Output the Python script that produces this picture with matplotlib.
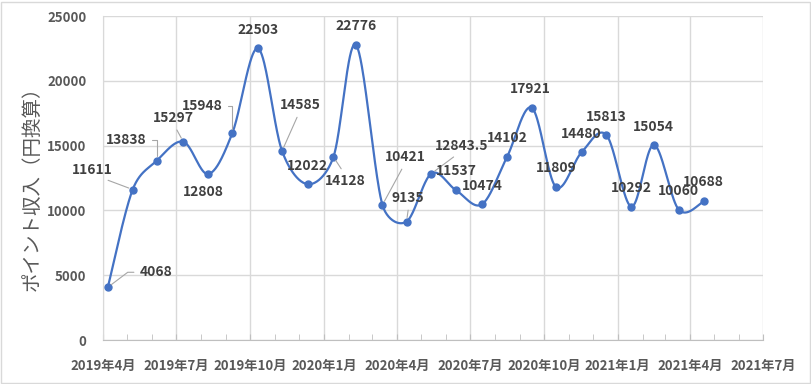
import numpy as np
import pandas as pd
import matplotlib
matplotlib.use('Agg')
import matplotlib.pyplot as plt
import matplotlib.dates as mdates
from matplotlib.patches import Rectangle

plt.rcParams['font.family'] = ['Noto Sans CJK JP', 'DejaVu Sans']

# data
dates = ['2019-04-07', '2019-05-08', '2019-06-07', '2019-07-10', '2019-08-10',
         '2019-09-09', '2019-10-11', '2019-11-10', '2019-12-12', '2020-01-13',
         '2020-02-10', '2020-03-14', '2020-04-13', '2020-05-14', '2020-06-14',
         '2020-07-16', '2020-08-16', '2020-09-16', '2020-10-16', '2020-11-17',
         '2020-12-18', '2021-01-18', '2021-02-15', '2021-03-18', '2021-04-18']
values = [4068, 11611, 13838, 15297, 12808, 15948, 22503, 14585, 12022, 14128,
          22776, 10421, 9135, 12843.5, 11537, 10474, 14102, 17921, 11809, 14480,
          15813, 10292, 15054, 10060, 10688]
tick_dates = ['2019-04-01', '2019-07-01', '2019-10-01', '2020-01-01', '2020-04-01',
              '2020-07-01', '2020-10-01', '2021-01-01', '2021-04-01', '2021-07-01']
tick_labels = ['2019年4月', '2019年7月', '2019年10月', '2020年1月', '2020年4月',
               '2020年7月', '2020年10月', '2021年1月', '2021年4月', '2021年7月']
y_ticks = [0, 5000, 10000, 15000, 20000, 25000]
y_label = 'ポイント収入（円換算）'

# label offsets in pixels (dx, dy up)
label_offsets = [(48, 15), (-40, 20), (-31, 21), (-10, 24), (-5, -18), (-30, 27),
                 (0, 18), (18, 46), (0, 18), (12, -24), (0, 19), (23, 48),
                 (1, 24), (30, 28), (0, 19), (0, 18), (0, 19), (-1, 19),
                 (0, 19), (0, 18), (0, 18), (0, 19), (0, 18), (0, 19), (0, 19)]
# leader lines: index -> (relpos, connectionstyle)
leaders = {
    0: ((0, 0.5), 'angle,angleA=180,angleB=37,rad=0'),
    1: ((0.54, 0.1), 'arc3,rad=0'),
    2: ((1, 0.5), 'angle,angleA=0,angleB=90,rad=0'),
    3: ((0.5, 0.1), 'arc3,rad=0'),
    5: ((1, 0.5), 'angle,angleA=0,angleB=90,rad=0'),
    7: ((0.5, 0.1), 'arc3,rad=0'),
    9: ((0.5, 0.9), 'arc3,rad=0'),
    11: ((0.5, 0.1), 'arc3,rad=0'),
    12: ((0.55, 0.1), 'arc3,rad=0'),
    13: ((0.5, 0.1), 'arc3,rad=0'),
}

line_color = '#4472C4'
grid_color = '#d9d9d9'
tick_color = '#595959'

x = mdates.date2num(pd.to_datetime(dates))
y = np.array(values, dtype=float)
x0 = mdates.date2num(pd.Timestamp(tick_dates[0]))
x1 = mdates.date2num(pd.Timestamp(tick_dates[-1]))

# Excel-like smoothed line, computed in screen units
sx = 660.0 / (x1 - x0)
sy = 324.0 / 25000
P = np.column_stack([x * sx, y * sy])
P = np.vstack([P[0], P, P[-1]])
t = np.linspace(0, 1, 40)[:, None]
curve = []
for i in range(len(x) - 1):
    p0, p1, p2, p3 = P[i], P[i + 1], P[i + 2], P[i + 3]
    d12 = np.hypot(*(p2 - p1))
    d02 = np.hypot(*(p2 - p0))
    d13 = np.hypot(*(p3 - p1))
    f1 = 1 / 6 if d02 / 6 < d12 / 2 else d12 / d02 / 2
    f2 = 1 / 6 if d13 / 6 < d12 / 2 else d12 / d13 / 2
    c1 = p1 + (p2 - p0) * f1
    c2 = p2 - (p3 - p1) * f2
    seg = ((1 - t) ** 3) * p1 + 3 * ((1 - t) ** 2) * t * c1 + 3 * (1 - t) * t ** 2 * c2 + t ** 3 * p2
    curve.append(seg)
curve = np.vstack(curve)
curve[:, 0] /= sx
curve[:, 1] /= sy

fig = plt.figure(figsize=(8.12, 3.84), dpi=100)
ax = fig.add_axes([103 / 812, 1 - 340 / 384, 660 / 812, 324 / 384])

ax.plot(curve[:, 0], curve[:, 1], color=line_color, lw=1.6, zorder=3, solid_capstyle='round')
ax.plot(x, y, 'o', color=line_color, ms=5, zorder=4)

for i, v in enumerate(values):
    kw = {}
    if i in leaders:
        relpos, cs = leaders[i]
        kw['arrowprops'] = dict(arrowstyle='-', color='#a6a6a6', lw=0.8, relpos=relpos,
                                shrinkA=2, shrinkB=3, connectionstyle=cs)
    ax.annotate(f'{v:g}', (x[i], y[i]), xytext=label_offsets[i], textcoords='offset pixels',
                ha='center', va='center', fontsize=10, fontweight='bold', color='#404040',
                zorder=5, **kw)

ax.set_xlim(x0, x1)
ax.set_ylim(0, 25000)
ax.set_xticks(mdates.date2num(pd.to_datetime(tick_dates)))
ax.set_xticklabels(tick_labels)
ax.set_yticks(y_ticks)
ax.set_yticklabels([str(v) for v in y_ticks])
ax.xaxis.set_minor_locator(mdates.MonthLocator())

ax.grid(True, which='major', color=grid_color, lw=1)
ax.set_axisbelow(True)
for s in ['top', 'right']:
    ax.spines[s].set_visible(False)
ax.spines['left'].set_color(grid_color)
ax.spines['bottom'].set_color('#bfbfbf')
ax.tick_params(axis='x', which='both', direction='in', length=4, color='#bfbfbf', pad=14,
               labelsize=9.5, labelcolor=tick_color)
ax.tick_params(axis='y', length=0, pad=12, labelsize=9.5, labelcolor=tick_color)
for lab in ax.get_xticklabels() + ax.get_yticklabels():
    lab.set_fontweight('bold')

fig.text(32 / 812, 1 - 184 / 384, y_label, rotation=90, ha='center', va='center',
         fontsize=14, color=tick_color)

fig.patches.append(Rectangle((1 / 812, 1 / 384), 809 / 812, 381 / 384, transform=fig.transFigure,
                             fill=False, edgecolor=grid_color, lw=1))

fig.savefig('out.png', dpi=100)
